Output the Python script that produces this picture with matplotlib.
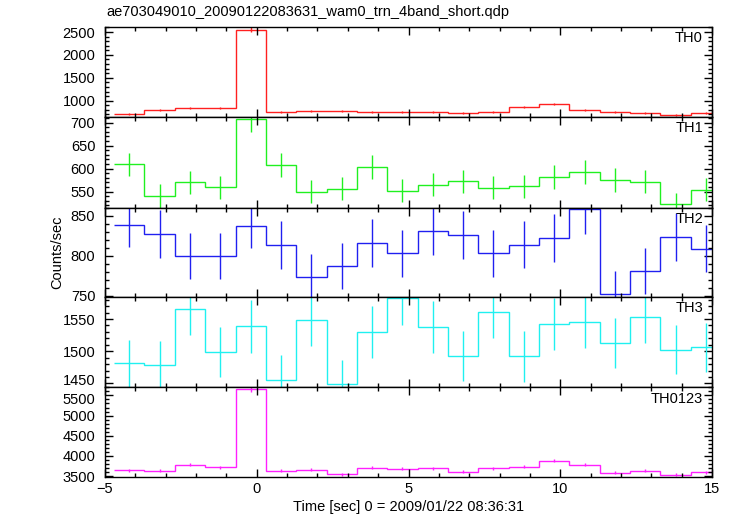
import numpy as np
import matplotlib
matplotlib.use("Agg")
import matplotlib.pyplot as plt
from matplotlib.ticker import MultipleLocator
from matplotlib.transforms import ScaledTranslation

plt.rcParams['font.family'] = ['Liberation Sans', 'DejaVu Sans']

# bin centres (s)
time = [-4.2, -3.2, -2.2, -1.2, -0.2, 0.8, 1.8, 2.8, 3.8, 4.8,
        5.8, 6.8, 7.8, 8.8, 9.8, 10.8, 11.8, 12.8, 13.8, 14.8]

th0 = [717, 797, 848, 848, 2551, 760, 782, 768, 755, 746,
       746, 724, 746, 855, 935, 790, 753, 731, 688, 724]
th0_err = [22, 23, 24, 24, 50, 22, 23, 23, 22, 22,
           22, 22, 22, 24, 25, 23, 22, 22, 22, 22]

th1 = [609, 541, 570, 560, 708, 607, 550, 556, 604, 552,
       565, 573, 558, 562, 582, 592, 576, 571, 523, 554]
th1_err = [26, 26, 25, 25, 29, 26, 25, 25, 26, 25,
           25, 25, 25, 25, 26, 26, 26, 25, 25, 25]

th2 = [838, 827, 800, 800, 837, 814, 773, 787, 816, 803,
       831, 826, 803, 814, 822, 858, 752, 781, 824, 809]
th2_err = [27, 30, 29, 29, 27, 30, 29, 29, 30, 29,
           30, 30, 29, 29, 30, 31, 29, 29, 30, 29]

th3 = [1481, 1479, 1565, 1499, 1539, 1456, 1548, 1449, 1530, 1582,
       1538, 1493, 1561, 1492, 1542, 1545, 1513, 1553, 1502, 1506]
th3_err = [37, 37, 40, 39, 41, 38, 40, 37, 40, 41,
           40, 39, 41, 39, 40, 40, 39, 40, 38, 38]

th0123 = [3648, 3631, 3787, 3721, 5648, 3639, 3656, 3549, 3705, 3689,
          3697, 3615, 3697, 3738, 3877, 3779, 3590, 3639, 3541, 3598]
th0123_err = [35, 35, 36, 36, 60, 35, 35, 35, 36, 35,
              35, 35, 35, 36, 37, 36, 35, 35, 35, 35]

names = ['TH0', 'TH1', 'TH2', 'TH3', 'TH0123']
series = [th0, th1, th2, th3, th0123]
errors = [th0_err, th1_err, th2_err, th3_err, th0123_err]
colors = ['#ff2020', '#20f020', '#2020f0', '#20f0f0', '#ff20ff']
ylims = [(650, 2610), (515, 713), (749, 860), (1444, 1585), (3480, 5700)]
majors = [500, 50, 50, 50, 500]
minors = [100, 10, 10, 10, 100]

fig = plt.figure(figsize=(7.33, 5.16), dpi=100)
left, right = 105 / 733, 712 / 733
bounds = [27, 116.7, 207.7, 296.5, 387.3, 477]
axes = []
t = np.array(time)
for i in range(5):
    y0 = 1 - bounds[i + 1] / 516
    y1 = 1 - bounds[i] / 516
    ax = fig.add_axes([left, y0, right - left, y1 - y0],
                      sharex=axes[0] if axes else None)
    axes.append(ax)
    edges = np.append(t - 0.5, t[-1] + 0.5)
    ax.stairs(series[i], edges, color=colors[i], lw=1.0, baseline=None)
    ax.errorbar(t, series[i], yerr=errors[i], fmt='none',
                ecolor=colors[i], elinewidth=1.0, capsize=0)
    ax.set_xlim(-5, 15)
    ax.set_ylim(*ylims[i])
    ax.xaxis.set_major_locator(MultipleLocator(5))
    ax.xaxis.set_minor_locator(MultipleLocator(1))
    ax.yaxis.set_major_locator(MultipleLocator(majors[i]))
    ax.yaxis.set_minor_locator(MultipleLocator(minors[i]))
    ax.tick_params(which='both', direction='in', top=True, right=True,
                   labelsize=10.5, width=1.0)
    ax.tick_params(which='major', length=6)
    ax.tick_params(which='minor', length=3)
    ax.tick_params(axis='y', which='major', pad=7)
    for s in ax.spines.values():
        s.set_linewidth(1.0)
    if i < 4:
        ax.tick_params(labelbottom=False)
    ax.text(0.985, 0.95, names[i], transform=ax.transAxes, ha='right', va='top',
            fontsize=10.5)

axes[-1].set_xlabel('Time [sec] 0 = 2009/01/22 08:36:31', fontsize=10.5, labelpad=3)
fig.text(57 / 733, 1 - 252 / 516, 'Counts/sec', rotation=90, ha='center', va='center',
         fontsize=10.5)
fig.text(106 / 733, 1 - 12 / 516, 'ae703049010_20090122083631_wam0_trn_4band_short.qdp',
         ha='left', va='center', fontsize=10.5)

# nudge the two crowded labels at the TH3 / TH0123 boundary apart slightly
fig.canvas.draw()
for ax, txt, dy in [(axes[3], '1450', 2.5), (axes[4], '5500', -2.5)]:
    for tk in ax.yaxis.get_major_ticks():
        if tk.label1.get_text() == txt:
            tk.label1.set_transform(tk.label1.get_transform() +
                                    ScaledTranslation(0, dy / 72, fig.dpi_scale_trans))

fig.savefig('out.png', dpi=100)
